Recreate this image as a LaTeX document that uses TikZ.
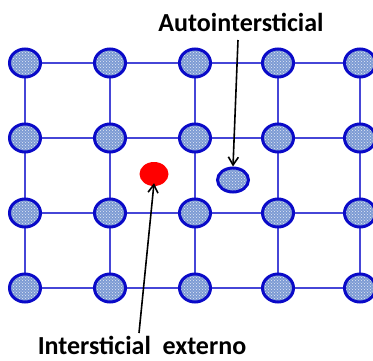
\documentclass[tikz,border=0pt]{standalone}
\usepackage{fontspec}
\setmainfont{Carlito}
\usetikzlibrary{arrows.meta,patterns,shapes.geometric}
\definecolor{atomfill}{RGB}{125,155,212}
\definecolor{atomrim}{RGB}{10,10,200}
\definecolor{bondline}{RGB}{70,70,215}
\tikzset{
  atom/.style={ellipse, minimum width=31pt, minimum height=28pt, inner sep=0pt,
    draw=atomrim, line width=3pt,
    preaction={fill=atomfill}, pattern=crosshatch dots, pattern color=white!80!atomfill},
  selfint/.style={atom, minimum width=31pt, minimum height=24pt},
  foreign/.style={ellipse, minimum width=29pt, minimum height=24pt, inner sep=0pt, fill=red},
  bond/.style={draw=bondline, line width=1.6pt},
  pointer/.style={draw=black, line width=1.6pt, -{Straight Barb[length=8pt,width=10pt]}},
  caption/.style={font=\bfseries\fontsize{26}{30}\selectfont, text=black, inner sep=0pt}
}
\begin{document}
\begin{tikzpicture}[x=1pt,y=-1pt]
\useasboundingbox (0,0) rectangle (373,360);
% lattice bonds
\foreach \x in {25,110,195,278,360}{
  \draw[bond] (\x,63) -- (\x,288);
}
\foreach \y in {63,138,213,288}{
  \draw[bond] (25,\y) -- (360,\y);
}
% lattice atoms
\foreach \c/\x in {1/25,2/110,3/195,4/278,5/360}{
  \foreach \r/\y in {1/63,2/138,3/213,4/288}{
    \node[atom] (a\c\r) at (\x,\y) {};
  }
}
% point defects
\node[foreign] (ext) at (154,174) {};
\node[selfint] (self) at (233,180) {};
% labels
\node[caption] (lblself) at (241,22) {Autointersticial};
\node[caption, anchor=base] (lblext) at (142,354) {Intersticial\ \ externo};
\coordinate (selftail) at (238,40);
\coordinate (exttail) at (139,333);
\draw[pointer] (selftail) -- (self.north);
\draw[pointer] (exttail) -- ([yshift=3pt]ext.south);
\end{tikzpicture}
\end{document}
